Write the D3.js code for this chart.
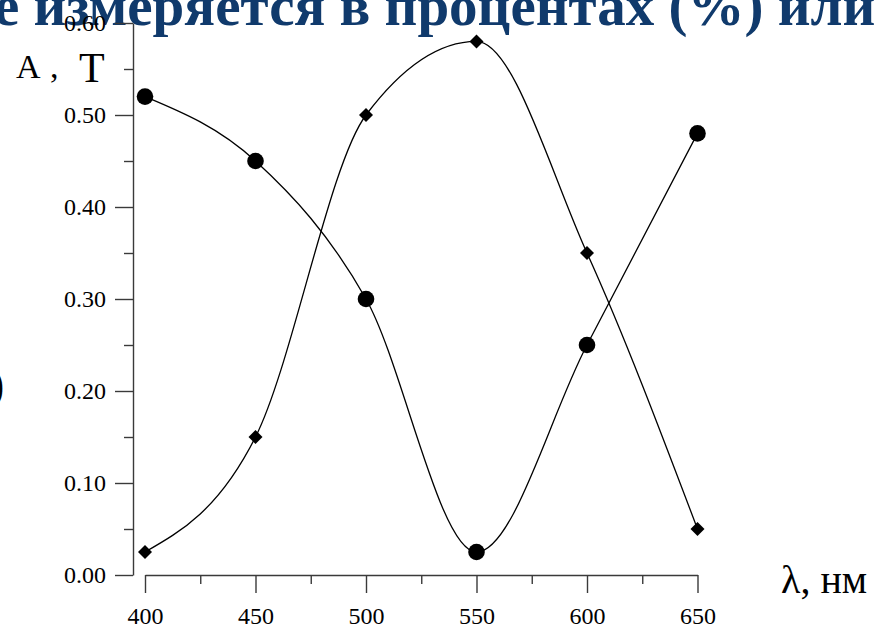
<!DOCTYPE html>
<html>
<head>
<meta charset="utf-8">
<script src="https://cdn.jsdelivr.net/npm/d3@7"></script>
<style>
  body { margin: 0; background: #fff; }
  svg { display: block; font-family: "Liberation Serif", "Times New Roman", serif; }
  .axis path, .axis line { stroke: #3a3a3a; stroke-width: 1.4; }
  .axis text { font-family: "Liberation Serif", serif; font-size: 24px; fill: #000; }
</style>
</head>
<body>
<div id="chart"></div>
<script>
// Data
const wavelengths = [400, 450, 500, 550, 600, 650];
const circleSeries = [0.52, 0.45, 0.30, 0.025, 0.25, 0.48];
const diamondSeries = [0.025, 0.15, 0.50, 0.58, 0.35, 0.05];
const yMajorTicks = [0, 0.1, 0.2, 0.3, 0.4, 0.5, 0.6];
const yMinorTicks = [0.05, 0.15, 0.25, 0.35, 0.45, 0.55];
const xMajorTicks = [400, 450, 500, 550, 600, 650];
const xMinorTicks = [425, 475, 525, 575, 625];

const width = 878, height = 626;

const svg = d3.select("#chart")
    .append("svg")
    .attr("width", width)
    .attr("height", height);

// cropped slide title above the chart
svg.append("text")
    .attr("x", -6)
    .attr("y", 25)
    .attr("font-size", 57)
    .attr("font-weight", "bold")
    .attr("fill", "#103a6c")
    .text("е измеряется в процентах (%) или в долях");

// stray bracket on the left edge
svg.append("text")
    .attr("x", -11)
    .attr("y", 400)
    .attr("font-size", 46)
    .text(")");

// scales
const x = d3.scaleLinear().domain([400, 650]).range([145, 697.5]);
const y = d3.scaleLinear().domain([0, 0.6]).range([575, 23]);

// y axis
svg.append("g")
    .attr("class", "axis")
    .attr("transform", "translate(133,0)")
    .call(d3.axisLeft(y).tickValues(yMajorTicks).tickFormat(d3.format(".2f"))
        .tickSize(18).tickSizeOuter(0).tickPadding(9));

svg.append("g")
    .attr("class", "axis")
    .attr("transform", "translate(133,0)")
    .call(d3.axisLeft(y).tickValues(yMinorTicks).tickFormat("")
        .tickSize(9).tickSizeOuter(0))
    .select(".domain").remove();

// x axis
svg.append("g")
    .attr("class", "axis")
    .attr("transform", "translate(0,575)")
    .call(d3.axisBottom(x).tickValues(xMajorTicks).tickFormat(d3.format("d"))
        .tickSize(18).tickSizeOuter(0).tickPadding(14));

svg.append("g")
    .attr("class", "axis")
    .attr("transform", "translate(0,575)")
    .call(d3.axisBottom(x).tickValues(xMinorTicks).tickFormat("")
        .tickSize(9).tickSizeOuter(0))
    .select(".domain").remove();

// axis titles
svg.append("text").attr("x", 16).attr("y", 78).attr("font-size", 34).text("A");
svg.append("text").attr("x", 50).attr("y", 78).attr("font-size", 34).text(",");
svg.append("text").attr("x", 79).attr("y", 82).attr("font-size", 42).text("T");

svg.append("text")
    .attr("x", 781)
    .attr("y", 593)
    .attr("font-size", 40)
    .text("λ, нм");

// curves
const line = d3.line()
    .x(d => x(d[0]))
    .y(d => y(d[1]))
    .curve(d3.curveMonotoneX);

const circlePts = wavelengths.map((w, i) => [w, circleSeries[i]]);
const diamondPts = wavelengths.map((w, i) => [w, diamondSeries[i]]);

[circlePts, diamondPts].forEach(pts => {
    svg.append("path")
        .datum(pts)
        .attr("d", line)
        .attr("fill", "none")
        .attr("stroke", "#000")
        .attr("stroke-width", 1.3);
});

// markers
svg.selectAll(".dot")
    .data(circlePts)
    .enter().append("circle")
    .attr("class", "dot")
    .attr("cx", d => x(d[0]))
    .attr("cy", d => y(d[1]))
    .attr("r", 8.3)
    .attr("fill", "#000");

svg.selectAll(".diamond")
    .data(diamondPts)
    .enter().append("path")
    .attr("class", "diamond")
    .attr("transform", d => `translate(${x(d[0])},${y(d[1])})`)
    .attr("d", d3.symbol().type(d3.symbolDiamond2).size(125))
    .attr("fill", "#000");
</script>
</body>
</html>
